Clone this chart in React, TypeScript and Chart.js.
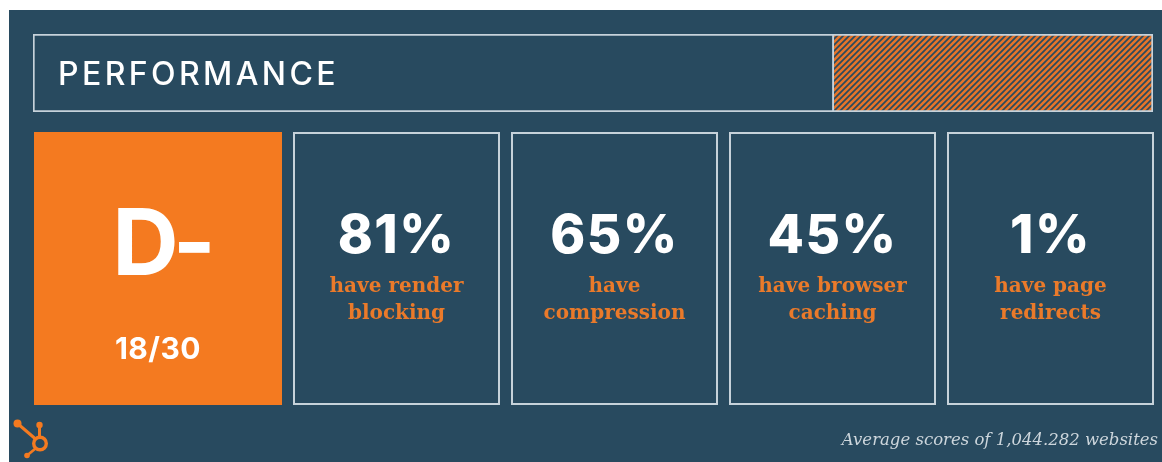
import { useEffect, useRef } from 'react';
import { Chart, registerables } from 'chart.js';

Chart.register(...registerables);

// ---- data ----
const headerLabels = ['PERFORMANCE'];
const scoreShare = [71.5];
const remainingShare = [28.5];
const grade = 'D-';
const gradeScore = '18/30';
const statValues = ['81%', '65%', '45%', '1%'];
const statLine1 = ['have render', 'have', 'have browser', 'have page'];
const statLine2 = ['blocking', 'compression', 'caching', 'redirects'];
const footnote = 'Average scores of 1,044.282 websites';

// ---- styles ----
const W = 1162;
const H = 462;
const NAVY = '#284a5f';
const ORANGE = '#f47a20';
const LABEL_ORANGE = '#ea7a2a';
const BORDER = '#c6d2da';
const WHITE = '#ffffff';

function makeHatch(): CanvasPattern | string {
  const c = document.createElement('canvas');
  c.width = 6;
  c.height = 6;
  const g = c.getContext('2d');
  if (!g) return ORANGE;
  g.fillStyle = NAVY;
  g.fillRect(0, 0, 6, 6);
  g.strokeStyle = '#e5742a';
  g.lineWidth = 2.6;
  g.beginPath();
  g.moveTo(-3, 3); g.lineTo(3, -3);
  g.moveTo(0, 6); g.lineTo(6, 0);
  g.moveTo(3, 9); g.lineTo(9, 3);
  g.stroke();
  const p = g.createPattern(c, 'repeat');
  return p || ORANGE;
}

const infographicPlugin = {
  id: 'infographic',
  beforeDraw(chart: any) {
    const ctx = chart.ctx as CanvasRenderingContext2D;
    ctx.save();
    ctx.fillStyle = WHITE;
    ctx.fillRect(0, 0, W, H);
    ctx.fillStyle = NAVY;
    ctx.fillRect(9, 10, W - 9, H - 10);
    ctx.restore();
  },
  afterDatasetsDraw(chart: any) {
    const ctx = chart.ctx as CanvasRenderingContext2D;
    const area = chart.chartArea;
    const yScale = chart.scales.y;
    const c: any = ctx;
    ctx.save();

    // header title
    const cy = yScale.getPixelForValue(0);
    ctx.fillStyle = WHITE;
    ctx.font = '500 32px Inter, "Open Sans", sans-serif';
    c.letterSpacing = '3.4px';
    ctx.textAlign = 'left';
    ctx.textBaseline = 'alphabetic';
    ctx.fillText(headerLabels[0], area.left + 25, cy + 12);
    c.letterSpacing = '0px';

    // grade box
    const gTop = 132;
    const gBottom = 405;
    const gLeft = 34;
    const gRight = 282;
    ctx.fillStyle = ORANGE;
    ctx.fillRect(gLeft, gTop, gRight - gLeft, gBottom - gTop);
    const gcx = (gLeft + gRight) / 2;
    ctx.fillStyle = WHITE;
    ctx.textAlign = 'center';
    ctx.font = '700 92px Inter, "Open Sans", sans-serif';
    c.letterSpacing = '-6px';
    ctx.fillText(grade, gcx + 3, 275);
    ctx.font = '700 30px Inter, "Open Sans", sans-serif';
    c.letterSpacing = '0.5px';
    ctx.fillText(gradeScore, gcx, 359);

    // stat boxes
    const boxW = 205;
    const step = 218;
    const firstLeft = 294;
    statValues.forEach((v, i) => {
      const left = firstLeft + i * step;
      ctx.strokeStyle = BORDER;
      ctx.lineWidth = 2;
      ctx.strokeRect(left, gTop + 1, boxW, gBottom - gTop - 2);
      const cx = left + boxW / 2;
      ctx.fillStyle = WHITE;
      ctx.font = '800 53px Inter, "Open Sans", sans-serif';
      c.letterSpacing = '1.5px';
      ctx.textAlign = 'center';
      ctx.fillText(v, cx, 253);
      c.letterSpacing = '0px';
      ctx.fillStyle = LABEL_ORANGE;
      ctx.font = 'bold 20px "DejaVu Serif", serif';
      ctx.fillText(statLine1[i], cx, 292);
      ctx.fillText(statLine2[i], cx, 319);
    });

    // footnote
    ctx.fillStyle = '#cdd6dc';
    ctx.font = 'italic 16.5px "DejaVu Serif", serif';
    ctx.textAlign = 'right';
    ctx.fillText(footnote, 1158, 445);

    // logo
    ctx.strokeStyle = ORANGE;
    ctx.fillStyle = ORANGE;
    ctx.lineCap = 'round';
    ctx.lineWidth = 3.4;
    ctx.beginPath();
    ctx.arc(40, 443.5, 6.3, 0, Math.PI * 2);
    ctx.stroke();
    ctx.lineWidth = 3;
    ctx.beginPath();
    ctx.moveTo(17.5, 423.5);
    ctx.lineTo(35, 438.5);
    ctx.moveTo(39.5, 425);
    ctx.lineTo(39.5, 436);
    ctx.stroke();
    ctx.lineWidth = 2.6;
    ctx.beginPath();
    ctx.moveTo(35.5, 448.5);
    ctx.lineTo(27, 455.5);
    ctx.stroke();
    ctx.beginPath();
    ctx.arc(17.5, 423.5, 4, 0, Math.PI * 2);
    ctx.fill();
    ctx.beginPath();
    ctx.arc(39.5, 425, 3.2, 0, Math.PI * 2);
    ctx.fill();
    ctx.beginPath();
    ctx.arc(27, 455.5, 2.8, 0, Math.PI * 2);
    ctx.fill();

    ctx.restore();
  },
};

export default function App() {
  const ref = useRef<HTMLCanvasElement | null>(null);
  useEffect(() => {
    if (!ref.current) return;
    const chart = new Chart(ref.current, {
      type: 'bar',
      data: {
        labels: headerLabels,
        datasets: [
          {
            label: 'score',
            data: scoreShare,
            backgroundColor: NAVY,
            borderColor: BORDER,
            borderWidth: 2,
            borderSkipped: false,
            barPercentage: 1,
            categoryPercentage: 1,
          },
          {
            label: 'remaining',
            data: remainingShare,
            backgroundColor: makeHatch() as any,
            borderColor: BORDER,
            borderWidth: { top: 2, right: 2, bottom: 2, left: 0 },
            borderSkipped: false,
            barPercentage: 1,
            categoryPercentage: 1,
          },
        ],
      },
      options: {
        indexAxis: 'y',
        responsive: false,
        animation: false,
        devicePixelRatio: 1,
        layout: { padding: { left: 33, top: 34, right: 9, bottom: 350 } },
        scales: {
          x: { stacked: true, display: false, min: 0, max: 100 },
          y: { stacked: true, display: false },
        },
        plugins: { legend: { display: false }, tooltip: { enabled: false } },
        events: [],
      },
      plugins: [infographicPlugin],
    });
    return () => chart.destroy();
  }, []);
  return (
    <div style={{ position: 'fixed', left: 0, top: 0, width: W, height: H }}>
      <canvas ref={ref} width={W} height={H} style={{ width: W, height: H, display: 'block' }} />
    </div>
  );
}
